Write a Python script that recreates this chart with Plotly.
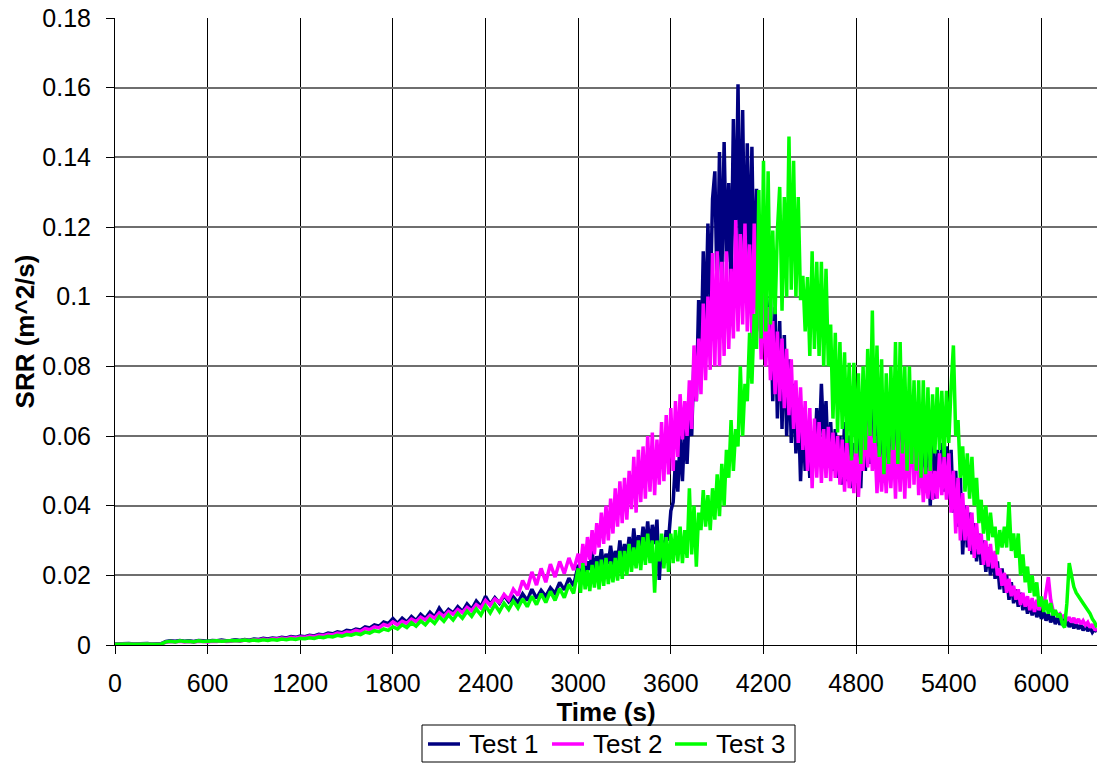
import plotly.graph_objects as go

# sample times (s): every 30 s up to 2970 s, then every 15 s to 6360 s
time_s = list(range(0, 3000, 30)) + list(range(3000, 6361, 15))

test1 = [
    # 0 - 2970 s (30 s)
    0.0003, 0.0004, 0.0003, 0.0004, 0.0003, 0.0004, 0.0003, 0.0004, 0.0003, 0.0004, 0.0004,
    0.0010, 0.0012, 0.0011, 0.0013, 0.0011, 0.0012, 0.0010, 0.0013, 0.0012, 0.0011,
    0.0013, 0.0012, 0.0014, 0.0012, 0.0013, 0.0015, 0.0013, 0.0016, 0.0014, 0.0017,
    0.0016, 0.0019, 0.0017, 0.0020, 0.0019, 0.0022, 0.0020, 0.0024, 0.0022, 0.0026,
    0.0024, 0.0028, 0.0026, 0.0031, 0.0029, 0.0034, 0.0032, 0.0038, 0.0035, 0.0042,
    0.0040, 0.0046, 0.0043, 0.0052, 0.0049, 0.0058, 0.0054, 0.0066, 0.0061, 0.0076,
    0.0062, 0.0077, 0.0066, 0.0082, 0.0070, 0.0088, 0.0076, 0.0094, 0.0080, 0.0106,
    0.0086, 0.0102, 0.0092, 0.0110, 0.0096, 0.0118, 0.0102, 0.0126, 0.0110, 0.0140,
    0.0116, 0.0136, 0.0120, 0.0142, 0.0124, 0.0138, 0.0122, 0.0147, 0.0128, 0.0160,
    0.0134, 0.0157, 0.0140, 0.0164, 0.0148, 0.0180, 0.0158, 0.0192, 0.0170,
    # 3000 - 6360 s (15 s)
    0.0230, 0.0195, 0.0262, 0.0205, 0.0240, 0.0215, 0.0270, 0.0210, 0.0255, 0.0225,
    0.0275, 0.0220, 0.0262, 0.0232, 0.0285, 0.0228, 0.0270, 0.0240, 0.0300, 0.0235,
    0.0290, 0.0250, 0.0310, 0.0255, 0.0335, 0.0262, 0.0315, 0.0270, 0.0340, 0.0280,
    0.0355, 0.0275, 0.0345, 0.0290, 0.0360, 0.0187, 0.0300, 0.0260, 0.0330, 0.0300,
    0.0385, 0.0410, 0.0530, 0.0440, 0.0600, 0.0470, 0.0630, 0.0520, 0.0680, 0.0600,
    0.0830, 0.0700, 0.0990, 0.0800, 0.1130, 0.0900, 0.1210, 0.0980, 0.1280, 0.1360,
    0.1000, 0.1415, 0.1050, 0.1444, 0.1100, 0.1326, 0.1020, 0.1510, 0.1120, 0.1610,
    0.1080, 0.1536, 0.1050, 0.1440, 0.1080, 0.1430, 0.1000, 0.1310, 0.0950, 0.1200,
    0.0880, 0.1030, 0.0850, 0.1000, 0.0700, 0.0970, 0.0650, 0.0930, 0.0620, 0.0890,
    0.0600, 0.0820, 0.0580, 0.0750, 0.0550, 0.0700, 0.0470, 0.0650, 0.0500, 0.0620,
    0.0480, 0.0600, 0.0520, 0.0680, 0.0560, 0.0750, 0.0590, 0.0700, 0.0510, 0.0640,
    0.0500, 0.0620, 0.0480, 0.0600, 0.0460, 0.0640, 0.0470, 0.0600, 0.0450, 0.0580,
    0.0470, 0.0620, 0.0450, 0.0650, 0.0500, 0.0700, 0.0520, 0.0800, 0.0550, 0.0720,
    0.0520, 0.0700, 0.0480, 0.0680, 0.0500, 0.0660, 0.0490, 0.0720, 0.0510, 0.0690,
    0.0520, 0.0720, 0.0540, 0.0700, 0.0530, 0.0680, 0.0500, 0.0650, 0.0480, 0.0640,
    0.0470, 0.0620, 0.0400, 0.0600, 0.0420, 0.0560, 0.0460, 0.0580, 0.0440, 0.0570,
    0.0420, 0.0560, 0.0380, 0.0500, 0.0340, 0.0480, 0.0260, 0.0400, 0.0280, 0.0380,
    0.0260, 0.0350, 0.0240, 0.0320, 0.0230, 0.0300, 0.0210, 0.0280, 0.0200, 0.0260,
    0.0190, 0.0240, 0.0160, 0.0220, 0.0150, 0.0200, 0.0130, 0.0180, 0.0120, 0.0160,
    0.0110, 0.0150, 0.0100, 0.0130, 0.0090, 0.0120, 0.0085, 0.0110, 0.0080, 0.0100,
    0.0075, 0.0095, 0.0070, 0.0090, 0.0065, 0.0085, 0.0060, 0.0080, 0.0058, 0.0075,
    0.0055, 0.0070, 0.0052, 0.0065, 0.0048, 0.0062, 0.0046, 0.0058, 0.0042, 0.0055,
    0.0040, 0.0050, 0.0036, 0.0045, 0.0038,
]

test2 = [
    # 0 - 2970 s (30 s)
    0.0002, 0.0003, 0.0002, 0.0003, 0.0002, 0.0003, 0.0002, 0.0003, 0.0002, 0.0003, 0.0003,
    0.0008, 0.0010, 0.0009, 0.0011, 0.0009, 0.0010, 0.0008, 0.0011, 0.0010, 0.0009,
    0.0011, 0.0010, 0.0012, 0.0010, 0.0011, 0.0013, 0.0011, 0.0014, 0.0012, 0.0015,
    0.0014, 0.0017, 0.0015, 0.0018, 0.0017, 0.0020, 0.0018, 0.0022, 0.0020, 0.0023,
    0.0022, 0.0026, 0.0024, 0.0028, 0.0027, 0.0031, 0.0029, 0.0034, 0.0032, 0.0037,
    0.0036, 0.0042, 0.0039, 0.0047, 0.0044, 0.0052, 0.0049, 0.0059, 0.0055, 0.0066,
    0.0058, 0.0068, 0.0062, 0.0074, 0.0067, 0.0080, 0.0072, 0.0085, 0.0077, 0.0092,
    0.0082, 0.0096, 0.0088, 0.0102, 0.0093, 0.0108, 0.0098, 0.0116, 0.0106, 0.0128,
    0.0114, 0.0132, 0.0122, 0.0145, 0.0130, 0.0160, 0.0142, 0.0185, 0.0160, 0.0210,
    0.0172, 0.0220, 0.0180, 0.0232, 0.0195, 0.0240, 0.0205, 0.0250, 0.0215,
    # 3000 - 6360 s (15 s)
    0.0262, 0.0220, 0.0290, 0.0228, 0.0310, 0.0245, 0.0330, 0.0260, 0.0350, 0.0280,
    0.0380, 0.0290, 0.0400, 0.0300, 0.0420, 0.0320, 0.0450, 0.0340, 0.0470, 0.0350,
    0.0480, 0.0360, 0.0500, 0.0390, 0.0540, 0.0380, 0.0560, 0.0410, 0.0570, 0.0420,
    0.0600, 0.0440, 0.0610, 0.0430, 0.0590, 0.0460, 0.0640, 0.0470, 0.0660, 0.0490,
    0.0680, 0.0500, 0.0700, 0.0540, 0.0720, 0.0590, 0.0700, 0.0600, 0.0760, 0.0620,
    0.0860, 0.0700, 0.0880, 0.0720, 0.0980, 0.0760, 0.1000, 0.0790, 0.1125, 0.0800,
    0.1130, 0.0800, 0.1100, 0.0830, 0.1130, 0.0850, 0.1080, 0.0880, 0.1220, 0.0900,
    0.1180, 0.0920, 0.1210, 0.0900, 0.1150, 0.0880, 0.1210, 0.0900, 0.1050, 0.0820,
    0.1050, 0.0800, 0.0970, 0.0760, 0.0930, 0.0720, 0.0900, 0.0700, 0.0880, 0.0680,
    0.0850, 0.0660, 0.0820, 0.0620, 0.0760, 0.0580, 0.0740, 0.0560, 0.0700, 0.0500,
    0.0680, 0.0450, 0.0650, 0.0480, 0.0640, 0.0465, 0.0620, 0.0480, 0.0626, 0.0470,
    0.0610, 0.0480, 0.0600, 0.0460, 0.0590, 0.0440, 0.0580, 0.0450, 0.0560, 0.0436,
    0.0580, 0.0425, 0.0560, 0.0500, 0.0666, 0.0510, 0.0655, 0.0500, 0.0600, 0.0436,
    0.0570, 0.0440, 0.0560, 0.0436, 0.0570, 0.0450, 0.0600, 0.0420, 0.0626, 0.0440,
    0.0620, 0.0420, 0.0626, 0.0450, 0.0690, 0.0460, 0.0650, 0.0430, 0.0550, 0.0410,
    0.0510, 0.0420, 0.0530, 0.0417, 0.0500, 0.0420, 0.0550, 0.0430, 0.0540, 0.0417,
    0.0550, 0.0380, 0.0500, 0.0320, 0.0480, 0.0300, 0.0436, 0.0300, 0.0400, 0.0270,
    0.0380, 0.0250, 0.0350, 0.0260, 0.0320, 0.0230, 0.0300, 0.0225, 0.0290, 0.0220,
    0.0270, 0.0200, 0.0220, 0.0170, 0.0207, 0.0150, 0.0190, 0.0140, 0.0170, 0.0130,
    0.0160, 0.0115, 0.0150, 0.0110, 0.0140, 0.0100, 0.0135, 0.0095, 0.0130, 0.0100,
    0.0120, 0.0110, 0.0160, 0.0195, 0.0130, 0.0100, 0.0095, 0.0085, 0.0090, 0.0080,
    0.0085, 0.0070, 0.0080, 0.0065, 0.0078, 0.0062, 0.0075, 0.0060, 0.0070, 0.0057,
    0.0065, 0.0050, 0.0060, 0.0045, 0.0043,
]

test3 = [
    # 0 - 2970 s (30 s)
    0.0002, 0.0003, 0.0002, 0.0003, 0.0002, 0.0003, 0.0002, 0.0003, 0.0002, 0.0003, 0.0003,
    0.0009, 0.0011, 0.0009, 0.0012, 0.0010, 0.0011, 0.0009, 0.0012, 0.0010, 0.0011,
    0.0010, 0.0012, 0.0011, 0.0012, 0.0011, 0.0013, 0.0012, 0.0014, 0.0012, 0.0014,
    0.0012, 0.0015, 0.0013, 0.0016, 0.0014, 0.0017, 0.0015, 0.0018, 0.0016, 0.0019,
    0.0018, 0.0021, 0.0019, 0.0023, 0.0021, 0.0025, 0.0023, 0.0028, 0.0025, 0.0030,
    0.0028, 0.0033, 0.0030, 0.0037, 0.0034, 0.0041, 0.0038, 0.0046, 0.0042, 0.0052,
    0.0046, 0.0058, 0.0050, 0.0064, 0.0054, 0.0069, 0.0058, 0.0074, 0.0062, 0.0081,
    0.0068, 0.0086, 0.0072, 0.0091, 0.0077, 0.0097, 0.0082, 0.0103, 0.0086, 0.0112,
    0.0092, 0.0116, 0.0096, 0.0120, 0.0102, 0.0126, 0.0106, 0.0132, 0.0110, 0.0140,
    0.0116, 0.0147, 0.0122, 0.0154, 0.0128, 0.0162, 0.0136, 0.0174, 0.0148,
    # 3000 - 6360 s (15 s)
    0.0220, 0.0150, 0.0235, 0.0160, 0.0215, 0.0155, 0.0230, 0.0165, 0.0240, 0.0160,
    0.0245, 0.0170, 0.0250, 0.0175, 0.0240, 0.0180, 0.0250, 0.0185, 0.0270, 0.0190,
    0.0270, 0.0200, 0.0290, 0.0210, 0.0280, 0.0220, 0.0300, 0.0215, 0.0310, 0.0230,
    0.0320, 0.0235, 0.0300, 0.0150, 0.0300, 0.0240, 0.0320, 0.0220, 0.0310, 0.0210,
    0.0320, 0.0235, 0.0330, 0.0240, 0.0340, 0.0235, 0.0330, 0.0250, 0.0450, 0.0260,
    0.0400, 0.0225, 0.0380, 0.0330, 0.0445, 0.0340, 0.0430, 0.0330, 0.0450, 0.0360,
    0.0490, 0.0370, 0.0520, 0.0400, 0.0560, 0.0480, 0.0646, 0.0500, 0.0620, 0.0570,
    0.0800, 0.0600, 0.0750, 0.0700, 0.0896, 0.0750, 0.0950, 0.0850, 0.1306, 0.0880,
    0.1390, 0.0900, 0.1360, 0.0920, 0.1190, 0.0950, 0.1190, 0.1315, 0.0960, 0.1286,
    0.1000, 0.1460, 0.1020, 0.1390, 0.1000, 0.1286, 0.0990, 0.1060, 0.0900, 0.1056,
    0.0830, 0.1130, 0.0850, 0.1100, 0.0830, 0.1100, 0.0800, 0.1080, 0.0800, 0.0920,
    0.0650, 0.0896, 0.0610, 0.0870, 0.0620, 0.0840, 0.0580, 0.0810, 0.0530, 0.0810,
    0.0550, 0.0780, 0.0520, 0.0800, 0.0560, 0.0850, 0.0600, 0.0960, 0.0580, 0.0860,
    0.0540, 0.0820, 0.0490, 0.0780, 0.0520, 0.0800, 0.0560, 0.0870, 0.0520, 0.0870,
    0.0550, 0.0800, 0.0500, 0.0800, 0.0520, 0.0760, 0.0500, 0.0760, 0.0480, 0.0760,
    0.0490, 0.0740, 0.0500, 0.0720, 0.0550, 0.0740, 0.0560, 0.0730, 0.0540, 0.0730,
    0.0580, 0.0740, 0.0860, 0.0600, 0.0646, 0.0480, 0.0570, 0.0440, 0.0550, 0.0420,
    0.0540, 0.0400, 0.0480, 0.0350, 0.0417, 0.0320, 0.0400, 0.0300, 0.0380, 0.0310,
    0.0340, 0.0260, 0.0330, 0.0280, 0.0340, 0.0280, 0.0410, 0.0270, 0.0320, 0.0250,
    0.0320, 0.0200, 0.0260, 0.0180, 0.0225, 0.0150, 0.0200, 0.0140, 0.0180, 0.0110,
    0.0139, 0.0095, 0.0130, 0.0090, 0.0120, 0.0085, 0.0100, 0.0080, 0.0090, 0.0060,
    0.0050, 0.0120, 0.0235, 0.0200, 0.0167, 0.0150, 0.0138, 0.0130, 0.0120, 0.0110,
    0.0100, 0.0090, 0.0075, 0.0065, 0.0050,
]

series_names = ["Test 1", "Test 2", "Test 3"]
series_colors = ["#000080", "#FF00FF", "#00FF00"]
series_values = [test1, test2, test3]

x_ticks = [0, 600, 1200, 1800, 2400, 3000, 3600, 4200, 4800, 5400, 6000]
y_ticks = [0, 0.02, 0.04, 0.06, 0.08, 0.1, 0.12, 0.14, 0.16, 0.18]
y_tick_labels = ["0", "0.02", "0.04", "0.06", "0.08", "0.1", "0.12", "0.14", "0.16", "0.18"]

FONT = "'Liberation Sans', Arial, sans-serif"

W, H = 1098, 763
ML, MR, MT, MB = 115, 1, 18, 118
PW, PH = W - ML - MR, H - MT - MB


def px_x(p):
    return (p - ML) / PW


def px_y(p):
    return (H - MB - p) / PH


fig = go.Figure()
for name, color, vals in zip(series_names, series_colors, series_values):
    fig.add_trace(go.Scatter(x=time_s, y=vals, mode="lines", name=name,
                             line=dict(color=color, width=3.5), showlegend=False))

# legend box drawn below the plot (boxed, horizontal, Excel style)
shapes = [dict(type="rect", xref="paper", yref="paper",
               x0=px_x(422), x1=px_x(795), y0=px_y(762), y1=px_y(725),
               line=dict(color="black", width=1), fillcolor="white", layer="above")]
annotations = []
legend_sample_x = [428, 552, 675]
legend_text_x = [467, 591, 714]
legend_y = 744
for name, color, sx, tx in zip(series_names, series_colors, legend_sample_x, legend_text_x):
    shapes.append(dict(type="line", xref="paper", yref="paper",
                       x0=px_x(sx), x1=px_x(sx + 32), y0=px_y(legend_y), y1=px_y(legend_y),
                       line=dict(color=color, width=3.5), layer="above"))
    annotations.append(dict(xref="paper", yref="paper", x=px_x(tx), y=px_y(legend_y),
                            text=name, showarrow=False, xanchor="left", yanchor="middle",
                            font=dict(family=FONT, size=26, color="black")))

fig.update_layout(
    width=W, height=H,
    margin=dict(l=ML, r=MR, t=MT, b=MB),
    paper_bgcolor="white", plot_bgcolor="white",
    font=dict(family=FONT, size=25, color="black"),
    showlegend=False,
    shapes=shapes,
    annotations=annotations,
    xaxis=dict(range=[0, 6360], tickmode="array", tickvals=x_ticks,
               ticks="outside", ticklen=8, tickcolor="black", tickwidth=1,
               showline=True, linecolor="black", linewidth=1,
               showgrid=True, gridcolor="#000000", gridwidth=1,
               zeroline=False, ticklabelstandoff=8,
               title=dict(text="<b>Time (s)</b>", standoff=0,
                          font=dict(family=FONT, size=26, color="black"))),
    yaxis=dict(range=[0, 0.18], tickmode="array", tickvals=y_ticks, ticktext=y_tick_labels,
               ticks="outside", ticklen=8, tickcolor="black", tickwidth=1,
               showline=True, linecolor="black", linewidth=1,
               showgrid=True, gridcolor="#6e6e6e", gridwidth=1.5,
               zeroline=False, ticklabelstandoff=10,
               title=dict(text="<b>SRR (m^2/s)</b>", standoff=0,
                          font=dict(family=FONT, size=26, color="black"))),
)

fig.write_html("out.html")
